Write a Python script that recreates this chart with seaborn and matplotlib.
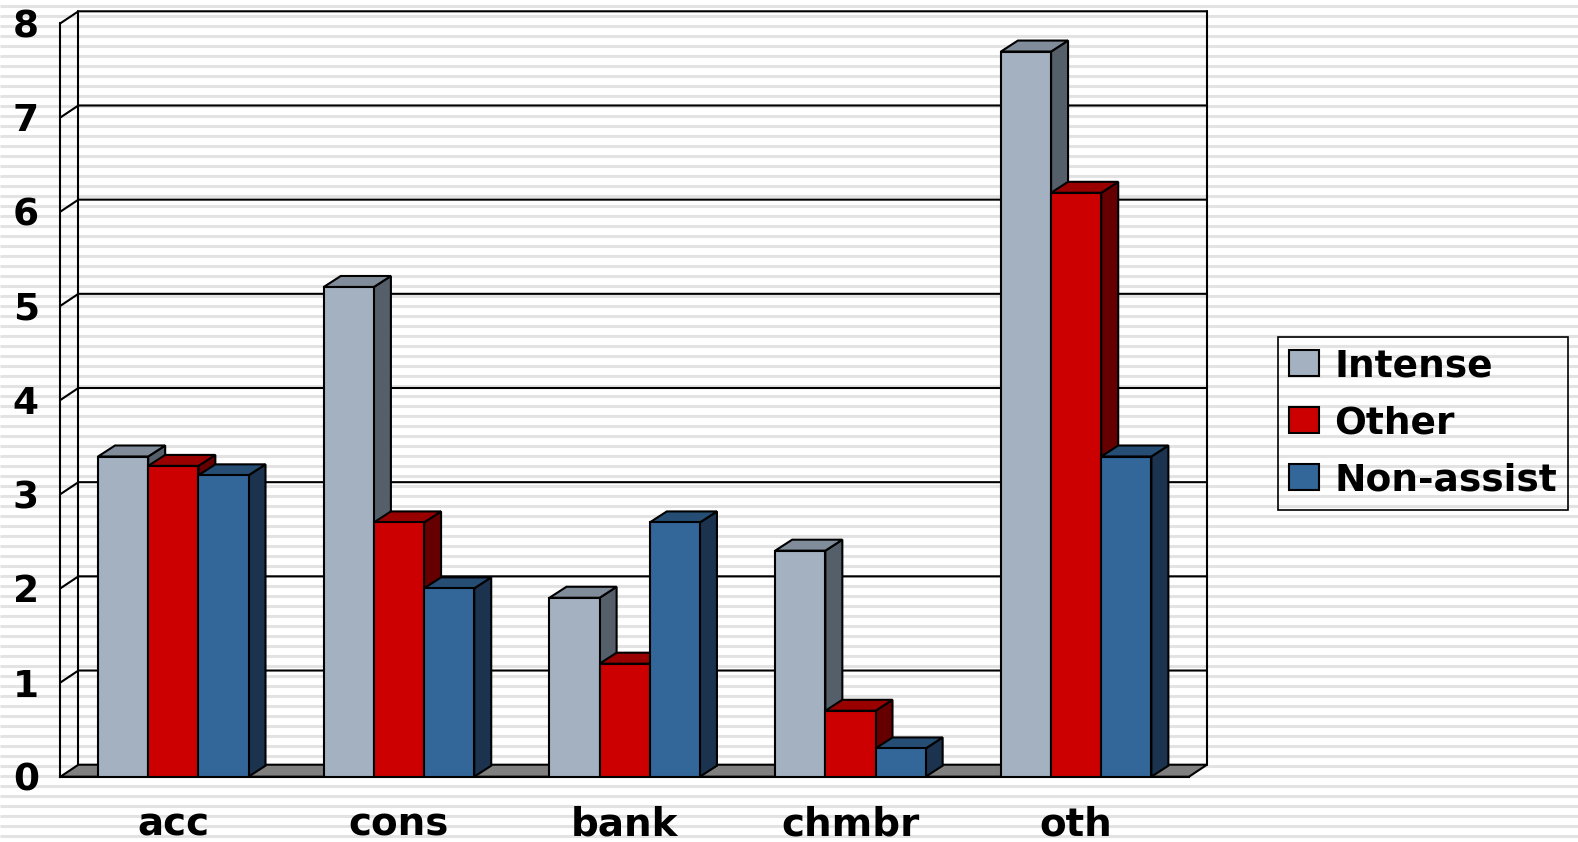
import numpy as np
import pandas as pd
import matplotlib
matplotlib.use("Agg")
import matplotlib.pyplot as plt
from matplotlib.patches import Polygon, Patch
import seaborn as sns

# ---- data ----
categories = ["acc", "cons", "bank", "chmbr", "oth"]
groups = ["Intense", "Other", "Non-assist"]
intense = [3.4, 5.2, 1.9, 2.4, 7.7]
other = [3.3, 2.7, 1.2, 0.7, 6.2]
non_assist = [3.2, 2.0, 2.7, 0.3, 3.4]
y_ticks = [0, 1, 2, 3, 4, 5, 6, 7, 8]

# ---- style ----
front_colors = {"Intense": "#A3B1C1", "Other": "#CC0000", "Non-assist": "#336699"}
side_colors = {"Intense": "#555F6A", "Other": "#660000", "Non-assist": "#1B334E"}
top_colors = {"Intense": "#808C99", "Other": "#990000", "Non-assist": "#264D73"}

sns.set_style("white")
plt.rcParams["font.family"] = ["DejaVu Sans"]
plt.rcParams["font.weight"] = "bold"
plt.rcParams["text.color"] = "black"
plt.rcParams["xtick.color"] = "black"
plt.rcParams["ytick.color"] = "black"

W, H, DPI = 1578, 842, 100
fig = plt.figure(figsize=(W / DPI, H / DPI), dpi=DPI)
fig.patch.set_facecolor("white")

# striped backdrop
bg = fig.add_axes([0, 0, 1, 1], zorder=-10)
bg.set_xlim(0, W)
bg.set_ylim(H, 0)
bg.axis("off")
bg.hlines(np.arange(6, H, 10), 0, W, color="#E3E3E3", linewidth=2.2)

# front plane of the 3-D chart (pixel layout)
left_px, right_px, top_px, bottom_px = 60.4, 1189.0, 23.3, 776.7
ax = fig.add_axes([left_px / W, 1 - bottom_px / H,
                   (right_px - left_px) / W, (bottom_px - top_px) / H])
ax.patch.set_visible(False)

df = pd.DataFrame({
    "category": categories * 3,
    "group": sum([[g] * len(categories) for g in groups], []),
    "value": intense + other + non_assist,
})

sns.barplot(data=df, x="category", y="value", hue="group",
            order=categories, hue_order=groups,
            palette=front_colors, width=2 / 3, saturation=1,
            edgecolor="black", linewidth=1.5, legend=False, ax=ax)

ax.set_xlim(-0.5, len(categories) - 0.5)
ax.set_ylim(0, 8)

# depth of the perspective, converted from pixels to data units
x_per_px = len(categories) / (right_px - left_px)
y_per_px = 8 / (bottom_px - top_px)
bdx, bdy = 17 * x_per_px, 11 * y_per_px     # bar depth
wdx, wdy = 18 * x_per_px, 12 * y_per_px     # wall depth

LW = 1.5
x0, x1 = -0.5, len(categories) - 0.5

# floor
ax.add_patch(Polygon([(x0, 0), (x1, 0), (x1 + wdx, wdy), (x0 + wdx, wdy)],
                     closed=True, facecolor="#808080", edgecolor="black",
                     linewidth=LW, zorder=1.5, clip_on=False))
# back wall frame and gridlines
for yv in y_ticks[1:]:
    ax.plot([x0, x0 + wdx, x1 + wdx], [yv, yv + wdy, yv + wdy],
            color="black", linewidth=LW, zorder=1, clip_on=False,
            solid_joinstyle="miter")
ax.plot([x0 + wdx, x0 + wdx], [wdy, 8 + wdy], color="black", linewidth=LW,
        zorder=1, clip_on=False)
ax.plot([x1 + wdx, x1 + wdx], [wdy, 8 + wdy], color="black", linewidth=LW,
        zorder=1, clip_on=False)

# side and top faces for each bar
for h, (g, cont) in enumerate(zip(groups, ax.containers)):
    for bar in cont:
        bx, bw, bh = bar.get_x(), bar.get_width(), bar.get_height()
        z = 3 + h * 0.1
        bar.set_zorder(z + 0.05)
        side = Polygon([(bx + bw, 0), (bx + bw + bdx, bdy),
                        (bx + bw + bdx, bh + bdy), (bx + bw, bh)],
                       closed=True, facecolor=side_colors[g],
                       edgecolor="black", linewidth=LW, zorder=z, clip_on=False)
        top = Polygon([(bx, bh), (bx + bw, bh), (bx + bw + bdx, bh + bdy),
                       (bx + bdx, bh + bdy)],
                      closed=True, facecolor=top_colors[g],
                      edgecolor="black", linewidth=LW, zorder=z, clip_on=False)
        ax.add_patch(side)
        ax.add_patch(top)

# axes, ticks and labels
for s in ["top", "right"]:
    ax.spines[s].set_visible(False)
for s in ["left", "bottom"]:
    ax.spines[s].set_linewidth(LW)
    ax.spines[s].set_color("black")
    ax.spines[s].set_zorder(2)

ax.set_yticks(y_ticks)
ax.set_yticklabels([str(v) for v in y_ticks], fontsize=27, fontweight="bold")
ax.tick_params(axis="y", direction="out", length=9.5, width=LW, pad=6)

ax.set_xticks(np.arange(-0.5, len(categories), 1.0))
ax.set_xticklabels([])
ax.set_xticks(np.arange(len(categories)), minor=True)
ax.set_xticklabels(categories, minor=True, fontsize=28, fontweight="bold")
ax.tick_params(axis="x", which="major", direction="out", length=9.5, width=LW)
ax.tick_params(axis="x", which="minor", length=0, pad=21)
ax.set_xlabel("")
ax.set_ylabel("")

# legend
handles = [Patch(facecolor=front_colors[g], edgecolor="black", linewidth=1.5)
           for g in groups]
leg = fig.legend(handles, groups, loc="upper left",
                 bbox_to_anchor=(1278 / W, 1 - 337 / H),
                 bbox_transform=fig.transFigure,
                 prop={"size": 27, "weight": "bold"},
                 frameon=True, fancybox=False, framealpha=1,
                 handlelength=0.8, handleheight=0.7, handletextpad=0.4,
                 borderpad=0.3, borderaxespad=0, labelspacing=0.56)
frame = leg.get_frame()
frame.set_facecolor("none")
frame.set_edgecolor("black")
frame.set_linewidth(1.2)

fig.savefig("out.png", dpi=DPI)
